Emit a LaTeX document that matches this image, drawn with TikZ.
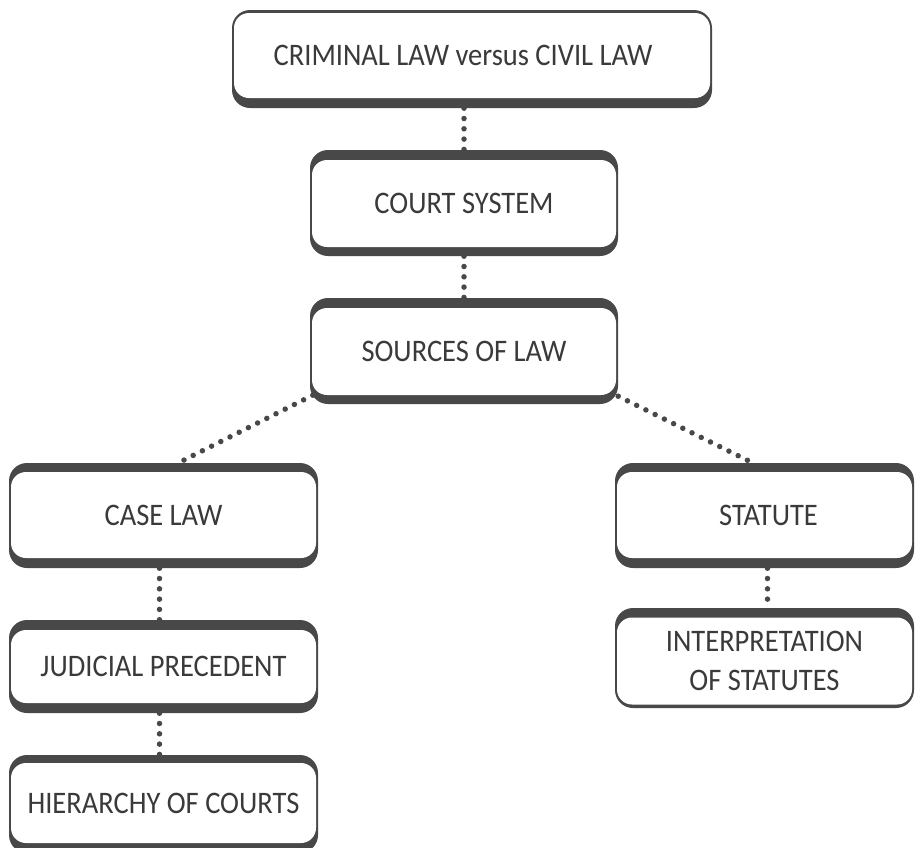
\documentclass[tikz,border=0pt]{standalone}
\usepackage{fontspec}
\setmainfont{Carlito}
\usetikzlibrary{backgrounds}
\definecolor{boxgray}{HTML}{484848}
\definecolor{txtgray}{HTML}{3A3A3A}
\newcommand{\tallt}[1]{\scalebox{1}[1.1]{#1}}
\tikzset{
  outerbox/.style={fill=boxgray, draw=none, rounded corners=18pt, inner sep=0pt, minimum width=#1},
  innerbox/.style={fill=white, draw=none, rounded corners=15pt, inner sep=0pt, minimum width=#1,
    text=txtgray, align=center, font=\fontsize{28.5}{32}\selectfont},
  dotline/.style={draw=boxgray, line width=5.5pt, line cap=round, dash pattern=on 0pt off 10.3pt}
}
\begin{document}
\begin{tikzpicture}[x=1pt,y=-1pt]
\useasboundingbox (0,0) rectangle (915,847);
\clip (0,0) rectangle (915,847);

% top
\node[outerbox=480pt, minimum height=98pt] (top) at (472,59) {};
\node[innerbox=476pt, minimum height=85pt] (topin) at (472,55.5) {\tallt{CRIMINAL LAW versus CIVIL LAW}\hspace*{18pt}};
% court
\node[outerbox=308pt, minimum height=106pt] (court) at (464,203) {};
\node[innerbox=304pt, minimum height=87pt] (courtin) at (464,203.5) {\tallt{COURT SYSTEM}};
% sources
\node[outerbox=308pt, minimum height=106pt] (sources) at (464,351) {};
\node[innerbox=304pt, minimum height=87pt] (sourcesin) at (464,351.5) {\tallt{SOURCES OF LAW}};
% case law
\node[outerbox=309pt, minimum height=105pt] (case) at (163.5,515.5) {};
\node[innerbox=305pt, minimum height=86pt] (casein) at (163.5,515) {\tallt{CASE LAW}};
% judicial
\node[outerbox=309pt, minimum height=93pt] (judicial) at (163.5,666.5) {};
\node[innerbox=305pt, minimum height=73pt] (judicialin) at (163.5,666.5) {\tallt{JUDICIAL PRECEDENT}};
% hierarchy
\node[outerbox=309pt, minimum height=98pt] (hier) at (163.5,804) {};
\node[innerbox=305pt, minimum height=80pt] (hierin) at (163.5,803) {\tallt{HIERARCHY OF COURTS}};
% statute
\node[outerbox=299pt, minimum height=105pt] (statute) at (764.5,515.5) {};
\node[innerbox=295pt, minimum height=86pt] (statutein) at (764.5,515) {\hspace*{8pt}\tallt{STATUTE}};
% interpretation
\node[outerbox=299pt, minimum height=100pt] (interp) at (764.5,658) {};
\node[innerbox=295pt, minimum height=87pt] (interpin) at (764.5,661) {\tallt{INTERPRETATION}\\[7pt]\tallt{OF STATUTES}};

\begin{scope}[on background layer]
\fill[white] (0,0) rectangle (915,847);
\draw[dotline] (court.north |- top.south) -- (court.north);
\draw[dotline] (court.south) -- (sources.north);
\draw[dotline] ([shift={(3,-9)}]sources.south west) -- ([xshift=15pt]case.north);
\draw[dotline] ([shift={(0,-8)}]sources.south east) -- ([xshift=-12pt]statute.north);
\draw[dotline] ([xshift=-4pt]case.south) -- ([xshift=-4pt]judicial.north);
\draw[dotline] ([xshift=-4pt]judicial.south) -- ([xshift=-4pt]hier.north);
\draw[dotline] ([xshift=3pt]statute.south) -- ([xshift=3pt]interp.north);
\end{scope}
\end{tikzpicture}
\end{document}
